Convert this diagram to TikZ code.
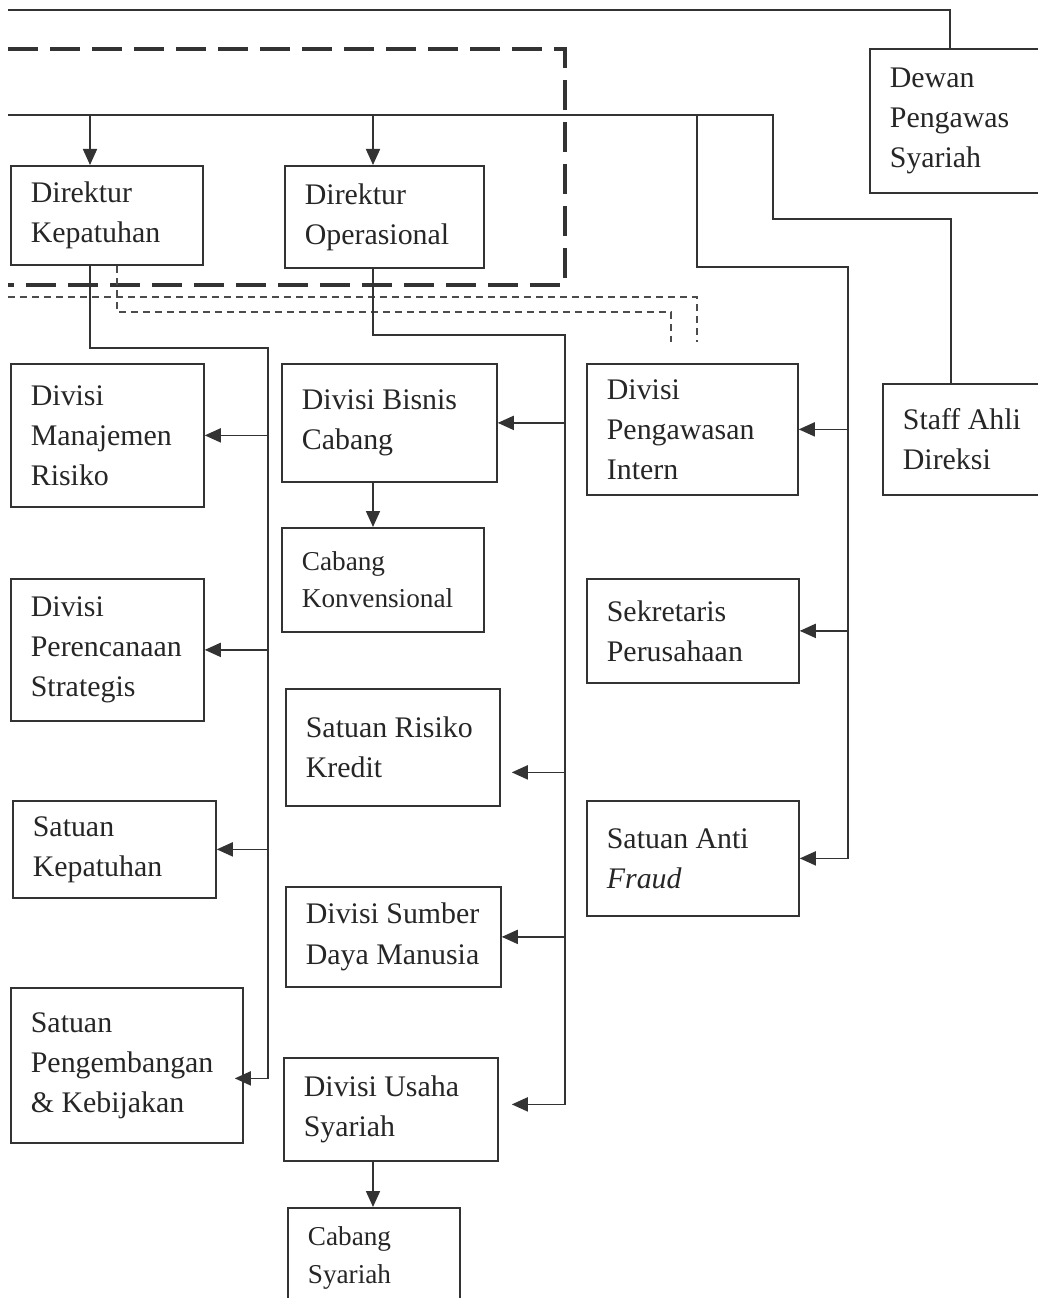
\documentclass[tikz,border=0pt]{standalone}
\usepackage{fontspec}
\setmainfont{Liberation Serif}
\usepackage{tikz}
\usetikzlibrary{arrows.meta,calc}
\hyphenpenalty=10000
\tikzset{
  orgbox/.style={draw=black!80, line width=1pt, anchor=north west, align=flush left, inner xsep=4mm, inner ysep=1mm, text=black!85, font=\fontsize{17}{22.8}\selectfont},
  smallbox/.style={orgbox, font=\fontsize{15.5}{21.3}\selectfont},
  kline/.style={draw=black!80, line width=1pt},
  cline/.style={kline, -{Triangle[length=3.2mm, width=2.8mm]}},
  komline/.style={draw=black!80, line width=2.2pt, dash pattern=on 6mm off 2.4mm},
  tline/.style={draw=black!70, line width=0.8pt, dash pattern=on 1.4mm off 1mm},
}

\begin{document}
\begin{tikzpicture}[x=0.2mm, y=-0.2mm]
  \useasboundingbox (0,0) rectangle (1038,1298);
  \clip (0,0) rectangle (1038,1298);

  % boxes
  \node[orgbox, text width=27mm, minimum height=28.8mm] (dewan) at (869,48) {Dewan\\Pengawas\\Syariah};
  \node[orgbox, text width=30.4mm, minimum height=19.8mm] (dirkep) at (10,165) {Direktur\\Kepatuhan};
  \node[orgbox, text width=31.8mm, minimum height=20.4mm] (dirops) at (284,165) {Direktur\\Operasional};
  \node[orgbox, text width=25mm, minimum height=22.2mm] (staff) at (882,383) {Staff~Ahli\\Direksi};

  \node[orgbox, text width=30.6mm, minimum height=28.6mm] (risiko) at (10,363) {Divisi\\Manajemen\\Risiko};
  \node[orgbox, text width=30.6mm, minimum height=28.4mm] (rencana) at (10,578) {Divisi\\Perencanaan\\Strategis};
  \node[orgbox, text width=32.6mm, minimum height=19.4mm] (kepatuhan) at (12,800) {Satuan\\Kepatuhan};
  \node[orgbox, text width=38.4mm, minimum height=31mm] (kembang) at (10,987) {Satuan\\Pengembangan\\\&~Kebijakan};

  \node[orgbox, text width=35mm, minimum height=23.6mm] (bisnis) at (281,363) {Divisi~Bisnis\\Cabang};
  \node[smallbox, text width=32.4mm, minimum height=20.8mm] (konven) at (281,527) {Cabang\\Konvensional};
  \node[orgbox, text width=34.8mm, minimum height=23.4mm] (kredit) at (285,688) {Satuan~Risiko\\Kredit};
  \node[orgbox, text width=35mm, minimum height=20mm] (sdm) at (285,886) {Divisi~Sumber\\Daya~Manusia};
  \node[orgbox, text width=34.8mm, minimum height=20.6mm] (usaha) at (283,1057) {Divisi~Usaha\\Syariah};
  \node[smallbox, text width=26.4mm, minimum height=20mm] (cbsyariah) at (287,1207) {Cabang\\Syariah};

  \node[orgbox, text width=34.2mm, minimum height=26.2mm] (intern) at (586,363) {Divisi\\Pengawasan\\Intern};
  \node[orgbox, text width=34.4mm, minimum height=20.8mm] (sekretaris) at (586,578) {Sekretaris\\Perusahaan};
  \node[orgbox, text width=34.4mm, minimum height=23mm] (fraud) at (586,800) {Satuan~Anti\\\textit{Fraud}};

  % bend points
  \coordinate (topL) at (8,10);
  \coordinate (dewanJ) at (950,10);
  \coordinate (dirL) at (8,115);
  \coordinate (staffJ) at (773,115);
  \coordinate (staffK) at (951,219);
  \coordinate (kepIn) at (90,115);
  \coordinate (opsIn) at (373,115);
  \coordinate (pengJ) at (697,115);
  \coordinate (pengK) at (848,267);
  \coordinate (kepBus) at (268,348);
  \coordinate (opsBus) at (565,335);
  \coordinate (komA) at (8,49);
  \coordinate (komB) at (565,285);
  \coordinate (dashL) at (8,297);
  \coordinate (dashR) at (697,342);
  \coordinate (kepDash) at (117,312);
  \coordinate (dashK) at (671,342);
  \coordinate (kembangIn) at ($(kembang.east)+(-9,13)$);
  \coordinate (kreditIn) at ($(kredit.east)+(11,25)$);
  \coordinate (usahaIn) at ($(usaha.east)+(13,-5)$);

  % dashed frame and dashed links
  \draw[komline] (komA) -| (komB) -- (komB -| komA);
  \draw[tline] (dashL) -| (dashR);
  \draw[tline] (kepDash |- dirkep.south) -- (kepDash) -| (dashK);

  % top lines
  \draw[kline] (topL) -- (dewanJ) -- (dewanJ |- dewan.north);
  \draw[kline] (dirL) -- (staffJ) -- (staffJ |- staffK) -- (staffK) -- (staffK |- staff.north);
  \draw[cline] (kepIn) -- (kepIn |- dirkep.north);
  \draw[cline] (opsIn) -- (opsIn |- dirops.north);

  % pengawasan branch
  \draw[cline] (pengJ) -- (pengJ |- pengK) -- (pengK) |- (fraud.east);
  \draw[cline] (pengK |- intern.east) -- (intern.east);
  \draw[cline] (pengK |- sekretaris.east) -- (sekretaris.east);

  % kepatuhan branch
  \draw[cline] (kepIn |- dirkep.south) |- (kepBus) |- (kembangIn);
  \draw[cline] (kepBus |- risiko.east) -- (risiko.east);
  \draw[cline] (kepBus |- rencana.east) -- (rencana.east);
  \draw[cline] (kepBus |- kepatuhan.east) -- (kepatuhan.east);

  % operasional branch
  \draw[cline] (opsIn |- dirops.south) |- (opsBus) |- (usahaIn);
  \draw[cline] (opsBus |- bisnis.east) -- (bisnis.east);
  \draw[cline] (opsBus |- kreditIn) -- (kreditIn);
  \draw[cline] (opsBus |- sdm.east) -- (sdm.east);
  \draw[cline] (opsIn |- bisnis.south) -- (opsIn |- konven.north);
  \draw[cline] (opsIn |- usaha.south) -- (opsIn |- cbsyariah.north);
\end{tikzpicture}
\end{document}
